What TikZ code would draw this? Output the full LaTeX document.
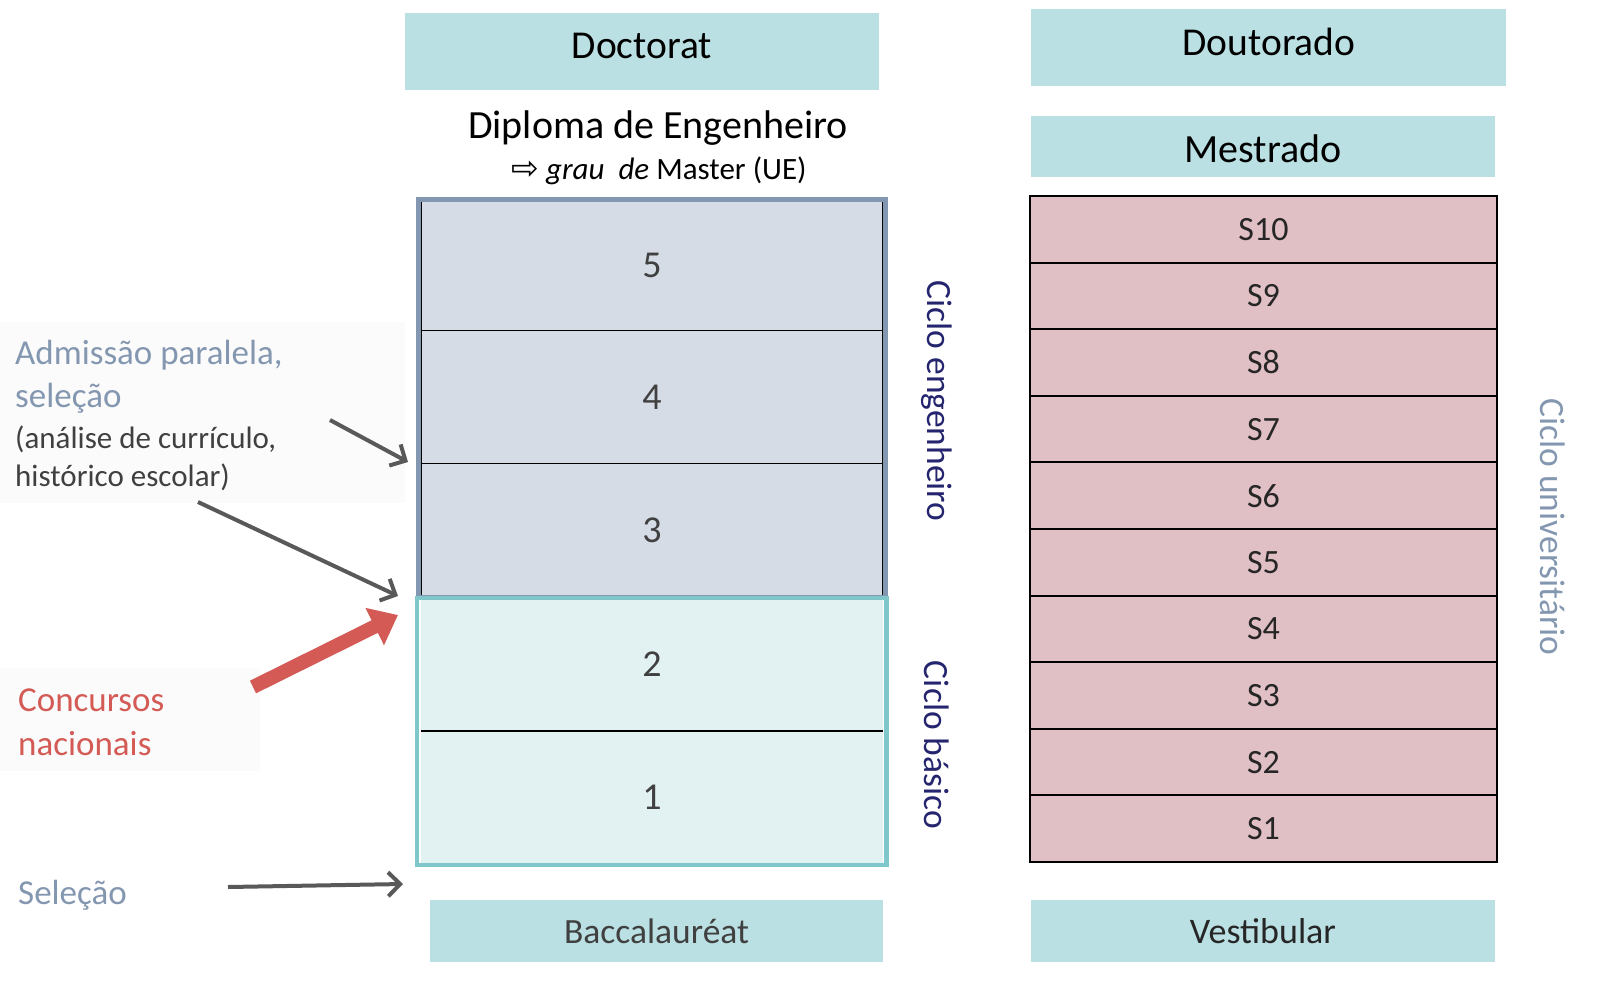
\documentclass[tikz,border=0pt]{standalone}
\usepackage{fontspec}
\setmainfont{Carlito}
\newfontfamily\symfont{DejaVu Sans}
\usetikzlibrary{arrows.meta}
\definecolor{tealbox}{HTML}{BBE0E3}
\definecolor{upfill}{HTML}{D6DCE5}
\definecolor{upframe}{HTML}{8497B0}
\definecolor{lowfill}{HTML}{E2F2F3}
\definecolor{lowframe}{HTML}{7FC7CA}
\definecolor{pinkcell}{HTML}{E0BFC5}
\definecolor{navytxt}{HTML}{25256F}
\definecolor{bluegray}{HTML}{8497B0}
\definecolor{darktxt}{HTML}{404040}
\definecolor{arrgray}{HTML}{595959}
\definecolor{redtxt}{HTML}{D45A55}
\definecolor{panel}{HTML}{FBFBFB}
\newcommand{\fs}[1]{\fontsize{#1}{#1}\selectfont}
\tikzset{
  hdrbox/.style={fill=tealbox, draw=none, inner sep=0pt},
  ucell/.style={draw=black, line width=1.6pt, fill=upfill, minimum width=462pt, minimum height=133pt, inner sep=0pt, text=darktxt, font=\fs{38}},
  lcell/.style={draw=none, fill=lowfill, minimum width=462pt, minimum height=134pt, inner sep=0pt, text=darktxt, font=\fs{38}},
  scell/.style={draw=black, line width=2pt, fill=pinkcell, minimum width=467pt, minimum height=66.6pt, inner sep=0pt, text=black!85, font=\fs{34}},
  sidelbl/.style={rotate=-90, font=\fs{35.5}, inner sep=0pt},
  grayarrow/.style={draw=arrgray, line width=4pt, -{Straight Barb[length=12pt,width=24pt,line width=4pt]}},
  redarrow/.style={draw=redtxt, line width=14pt, -{Triangle[length=26pt,width=40pt]}},
  lefttxt/.style={anchor=west, inner sep=0pt, align=left},
}
\begin{document}
\begin{tikzpicture}[x=1pt,y=-1pt]
\useasboundingbox (0,0) rectangle (1609,986);
% background panels
\fill[panel] (0,322) rectangle (405,503);
\fill[panel] (0,668) rectangle (260,771);
% left column headers
\node[hdrbox, minimum width=474pt, minimum height=77pt] (doct) at (642,51.5) {};
\node[font=\fs{39.5}, inner sep=0pt] (doctt) at (642,46) {Doctorat};
\node[font=\fs{40}, inner sep=0pt] (dipl) at (658,128) {Diploma de Engenheiro};
\node[font=\fs{31}, inner sep=0pt] (grau) at (659,171) {{\symfont\fs{33}⇨}\ \textit{grau\ \ de} Master (UE)};
% upper block cells
\node[ucell] (c5) at (652,265) {5};
\node[ucell] (c4) at (652,397) {4};
\node[ucell] (c3) at (652,530) {3};
\draw[upframe, line width=5pt] (418.5,199.5) rectangle (885,597);
% lower block
\node[lcell] (c2) at (652,664) {2};
\node[lcell] (c1) at (652,797) {1};
\draw[black, line width=1.6pt] (c2.south west) -- (c2.south east);
\draw[lowframe, line width=4.5pt] (417,598) rectangle (886.5,865);
% side labels
\node[sidelbl, text=navytxt] (ceng) at (937,401) {Ciclo engenheiro};
\node[sidelbl, text=navytxt] (cbas) at (937,745) {Ciclo básico};
% baccalaureat
\node[hdrbox, minimum width=453pt, minimum height=62pt, font=\fs{35.5}, text=darktxt] (bac) at (656.5,931) {Baccalauréat};
% right column
\node[hdrbox, minimum width=475pt, minimum height=77pt] (dout) at (1268.5,47.5) {};
\node[font=\fs{39.5}, inner sep=0pt] (doutt) at (1269,42) {Doutorado};
\node[hdrbox, minimum width=464pt, minimum height=61pt] (mest) at (1263,146.5) {};
\node[font=\fs{40}, inner sep=0pt] (mestt) at (1263,149) {Mestrado};
\foreach \i in {1,...,10}{
  \node[scell] (s\i) at (1263.5,{862-33.3-66.6*(\i-1)}) {S\i};
}
\node[sidelbl, text=bluegray] (cuni) at (1553,527) {Ciclo universitário};
\node[hdrbox, minimum width=464pt, minimum height=62pt, font=\fs{36}, text=black!85] (vest) at (1263,931) {Vestibular};
% left annotations
\node[lefttxt, text=bluegray, font=\fs{35}] (adm1) at (15,355) {Admissão paralela,};
\node[lefttxt, text=bluegray, font=\fs{35}] (adm2) at (15,398) {seleção};
\node[lefttxt, text=darktxt, font=\fs{31}] (adm3) at (15,439) {(análise de currículo,};
\node[lefttxt, text=darktxt, font=\fs{31}] (adm4) at (15,477) {histórico escolar)};
\node[lefttxt, text=redtxt, font=\fs{35}] (conc1) at (18,700) {Concursos};
\node[lefttxt, text=redtxt, font=\fs{35}] (conc2) at (18,744) {nacionais};
\node[lefttxt, text=bluegray, font=\fs{35}] (sel) at (18,895) {Seleção};
% arrow endpoints
\coordinate (a1s) at (330,420);
\coordinate (a1e) at (408,462);
\coordinate (a2s) at (198,502);
\coordinate (a2e) at (398,596);
\coordinate (r1s) at (253,687);
\coordinate (r1e) at (398,615);
\coordinate (a3s) at (228,887);
\coordinate (a3e) at (403,884);
\draw[grayarrow] (a1s) -- (a1e);
\draw[grayarrow] (a2s) -- (a2e);
\draw[redarrow] (r1s) -- (r1e);
\draw[grayarrow] (a3s) -- (a3e);
\end{tikzpicture}
\end{document}
